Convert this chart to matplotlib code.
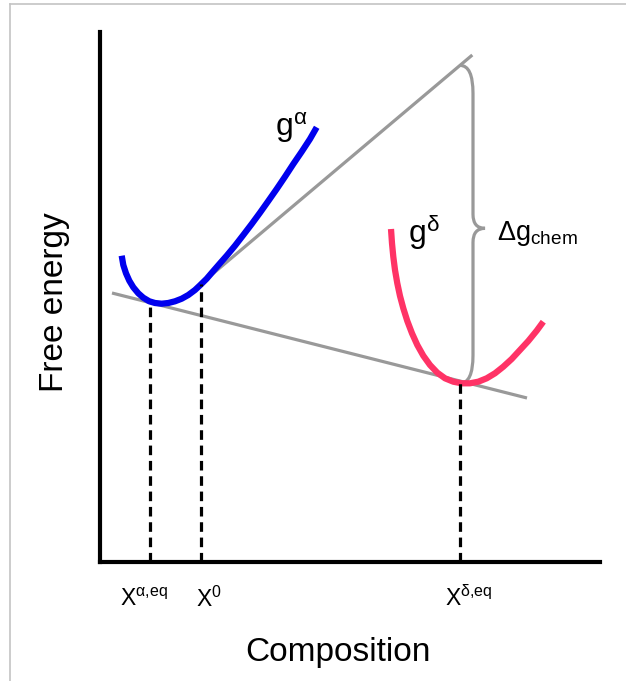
import numpy as np
import matplotlib
matplotlib.use('Agg')
import matplotlib.pyplot as plt
from matplotlib.path import Path
from matplotlib.patches import PathPatch
from matplotlib.lines import Line2D

plt.rcParams['font.family'] = ['Liberation Sans', 'DejaVu Sans']
plt.rcParams['mathtext.fontset'] = 'custom'
plt.rcParams['mathtext.rm'] = 'Liberation Sans'
plt.rcParams['mathtext.it'] = 'Liberation Sans:italic'

# free energy curves (composition, energy) in arbitrary units
g_alpha_x = [21.7, 23.3, 26.0, 29.3, 33.3, 38.3, 43.3, 49.3, 55.0, 61.7, 68.3, 75.0,
             81.7, 88.3, 95.0, 100.0, 106.7, 113.3, 120.0, 126.7, 135.0, 143.3,
             151.7, 160.0, 168.3, 176.7, 185.0, 193.3, 201.7, 210.0, 216.7]
g_alpha_y = [306.3, 297.0, 288.7, 281.3, 274.7, 268.7, 264.3, 260.7, 259.0, 258.3, 259.0, 260.7,
             263.3, 267.0, 272.0, 276.7, 283.3, 291.0, 298.7, 306.3, 316.3, 327.0,
             338.0, 349.3, 361.0, 373.0, 385.3, 398.0, 410.3, 423.0, 434.7]

g_delta_x = [291.0, 292.0, 293.3, 295.0, 297.3, 300.0, 303.3, 307.3, 312.0, 317.3, 323.3,
             330.0, 337.3, 345.0, 353.3, 361.7, 370.0, 378.3, 386.7, 395.0, 403.3,
             411.7, 420.0, 428.3, 436.7, 443.3]
g_delta_y = [333.0, 318.7, 305.3, 292.0, 278.7, 266.0, 253.7, 241.0, 228.7, 217.0, 206.3,
             197.0, 189.3, 183.7, 180.3, 178.7, 178.7, 180.3, 183.7, 188.7, 195.3,
             203.0, 212.0, 221.0, 231.3, 240.3]

# common tangent and tangent at X0
common_x = [12.0, 427.0]
common_y = [269.0, 164.0]
tangent0_x = [90.0, 372.3]
tangent0_y = [269.0, 507.0]

# characteristic compositions
x_marks = [50.0, 101.0, 360.0]
x_labels = [r'$\mathregular{X^{α{,}eq}}$', r'$\mathregular{X^{0}}$', r'$\mathregular{X^{δ{,}eq}}$']
label_dx = [-4, 6, 6]

gray = '#999999'

fig = plt.figure(figsize=(6.26, 6.81), dpi=100)
ax = fig.add_axes([100 / 626, 119 / 681, 500 / 626, 530 / 681])
ax.set_xlim(0, 500)
ax.set_ylim(0, 530)

for side in ['top', 'right']:
    ax.spines[side].set_visible(False)
for side in ['left', 'bottom']:
    ax.spines[side].set_linewidth(3)
    ax.spines[side].set_color('black')
    ax.spines[side].set_capstyle('projecting')
ax.set_xticks([])
ax.set_yticks([])

# tangent lines
ax.plot(common_x, common_y, color=gray, lw=2.3, solid_capstyle='butt', zorder=2)
ax.plot(tangent0_x, tangent0_y, color=gray, lw=2.3, solid_capstyle='butt', zorder=2)

# free energy curves
ax.plot(g_alpha_x, g_alpha_y, color='#0000ee', lw=4.5, solid_capstyle='butt',
        solid_joinstyle='round', zorder=3)
ax.plot(g_delta_x, g_delta_y, color='#ff3366', lw=4.5, solid_capstyle='butt',
        solid_joinstyle='round', zorder=3)

# dashed drop lines from the tangent points
tops = [np.interp(x_marks[0], common_x, common_y),
        np.interp(x_marks[1], tangent0_x, tangent0_y),
        np.interp(x_marks[2], common_x, common_y)]
for xm, top in zip(x_marks, tops):
    ax.plot([xm, xm], [0, top], color='black', lw=2.3, ls=(0, (3, 1.8)), zorder=4)

# composition labels under the axis
for xm, lab, dx in zip(x_marks, x_labels, label_dx):
    ax.annotate(lab, xy=(xm, 0), xytext=(dx, -32), textcoords='offset points',
                ha='center', va='baseline', fontsize=16.5, annotation_clip=False)

# brace for the chemical driving force
bx = x_marks[2]
b_top = np.interp(bx, tangent0_x, tangent0_y)
b_bot = min(g_delta_y)
b_mid = (b_top + b_bot) / 2 - 4
x1, xt = bx + 13, bx + 25
r_end, r_mid = 28, 14
verts = [(bx, b_top), (x1, b_top), (x1, b_top - r_end),
         (x1, b_mid + r_mid), (x1, b_mid), (xt, b_mid),
         (x1, b_mid), (x1, b_mid - r_mid),
         (x1, b_bot + r_end), (x1, b_bot), (bx, b_bot)]
codes = [Path.MOVETO, Path.CURVE3, Path.CURVE3,
         Path.LINETO, Path.CURVE3, Path.CURVE3,
         Path.CURVE3, Path.CURVE3,
         Path.LINETO, Path.CURVE3, Path.CURVE3]
ax.add_patch(PathPatch(Path(verts, codes), fill=False, edgecolor=gray, lw=2.3, zorder=2))

# curve names
ax.text(175, 426, r'$\mathregular{g^{α}}$', fontsize=23, ha='left', va='baseline')
ax.text(308, 319, r'$\mathregular{g^{δ}}$', fontsize=23, ha='left', va='baseline')
ax.text(397, 322, r'$\mathregular{Δg_{chem}}$', fontsize=19.5, ha='left', va='baseline')

ax.set_xlabel('Composition', fontsize=24)
ax.xaxis.set_label_coords(0.476, -0.187)
ax.xaxis.label.set_va('baseline')
ax.set_ylabel('Free energy', fontsize=24)
ax.yaxis.set_label_coords(-0.09, 0.49)
ax.yaxis.label.set_va('center')

# thin frame around the drawing
fig.add_artist(Line2D([10 / 626, 1], [1 - 3.5 / 681, 1 - 3.5 / 681], color='#c4c4c4', lw=1.2))
fig.add_artist(Line2D([10 / 626, 10 / 626], [0, 1 - 3.5 / 681], color='#c4c4c4', lw=1.2))

fig.savefig('out.png', dpi=100, facecolor='white')
